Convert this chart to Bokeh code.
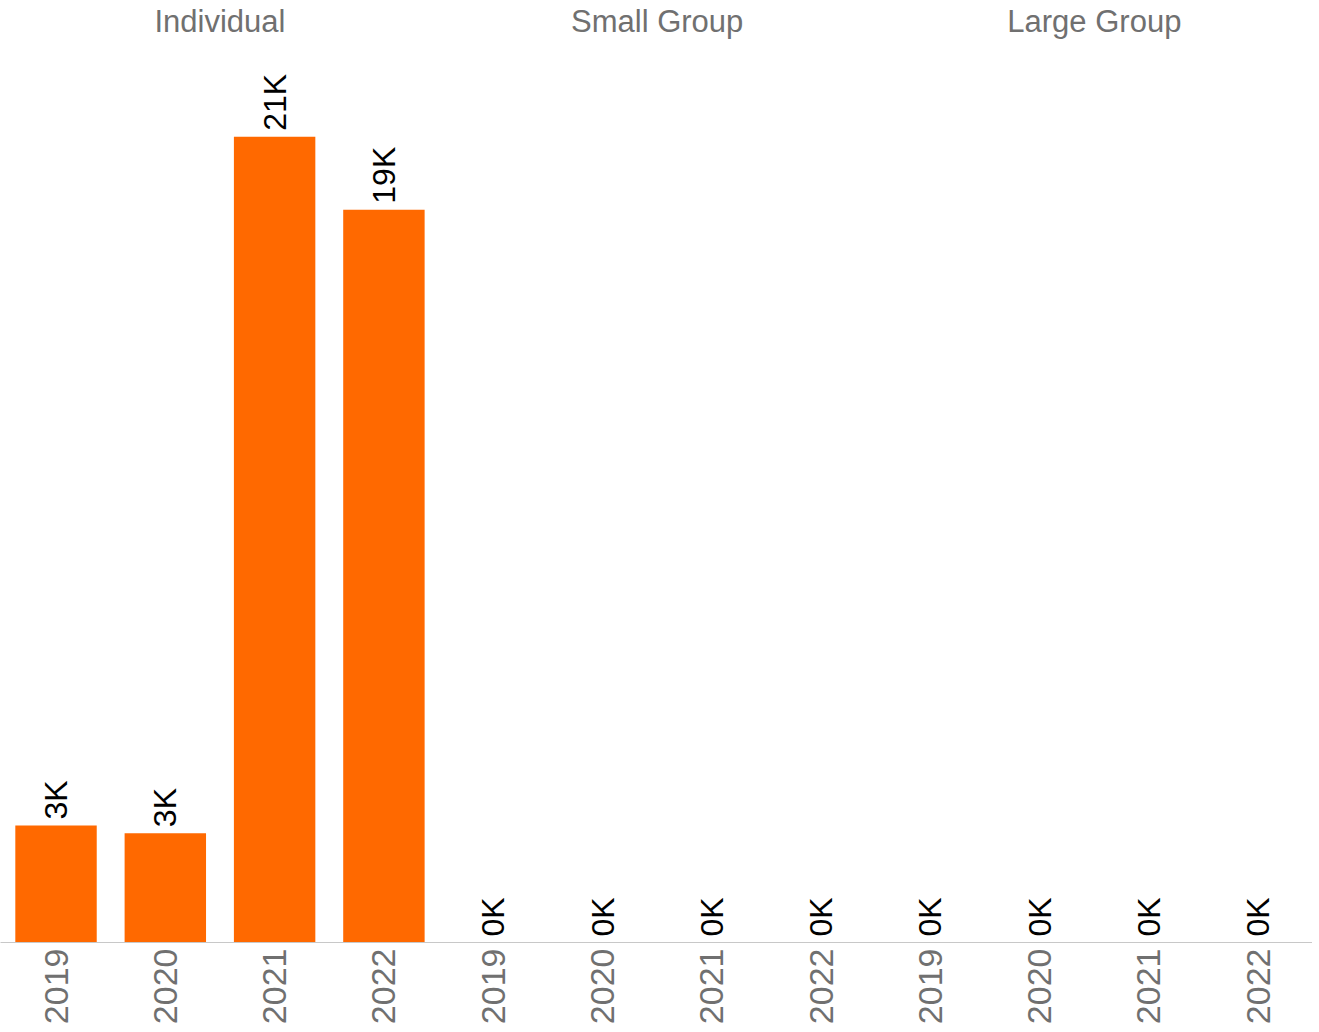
from math import pi
from bokeh.plotting import figure
from bokeh.models import ColumnDataSource, Range1d, LinearAxis, FixedTicker
from bokeh.core.properties import value
from bokeh.embed import file_html
from bokeh.resources import INLINE

# ---- data ----
groups = ["Individual", "Small Group", "Large Group"]
years = ["2019", "2020", "2021", "2022"]
individual = [3050, 2850, 21000, 19100]
small_group = [0, 0, 0, 0]
large_group = [0, 0, 0, 0]

series = [individual, small_group, large_group]
xs, vals, labels, year_lab = [], [], [], []
for gi, vs in enumerate(series):
    for yi, v in enumerate(vs):
        idx = gi * len(years) + yi
        xs.append(idx + 0.5)
        vals.append(v)
        labels.append(f"{round(v / 1000)}K")
        year_lab.append(years[yi])

src = ColumnDataSource(dict(x=xs, top=vals, label=labels))

ORANGE = "#FF6900"
GRAY = "#707070"
FONT = "Liberation Sans"

p = figure(width=1312, height=1027, output_backend="svg", toolbar_location=None,
           x_range=Range1d(-0.008, 11.996), y_range=Range1d(0, 23250),
           x_axis_location=None, y_axis_location=None,
           min_border_left=0, min_border_right=0, min_border_top=2, min_border_bottom=0)
p.outline_line_color = None
p.xgrid.visible = False
p.ygrid.visible = False
p.background_fill_color = "white"
p.border_fill_color = "white"

p.vbar(x="x", top="top", bottom=0, width=0.745, source=src,
       fill_color=ORANGE, line_color=None)

p.text(x="x", y="top", text="label", source=src, angle=pi / 2,
       text_align="left", text_baseline="middle", y_offset=-6,
       text_font=value(FONT), text_font_size="32px", text_color="black")

# bottom axis: years
bax = LinearAxis(ticker=FixedTicker(ticks=xs),
                 major_label_overrides={x: y for x, y in zip(xs, year_lab)})
bax.major_label_orientation = pi / 2
bax.major_label_text_font = FONT
bax.major_label_text_font_size = "34px"
bax.major_label_text_color = GRAY
bax.major_label_standoff = 0
bax.major_tick_line_color = None
bax.minor_tick_line_color = None
bax.axis_line_color = "#c8c8c8"
bax.axis_line_width = 1
p.add_layout(bax, "below")

# top axis: group headers
centers = [gi * len(years) + len(years) / 2 for gi in range(len(groups))]
tax = LinearAxis(ticker=FixedTicker(ticks=centers),
                 major_label_overrides={c: g for c, g in zip(centers, groups)})
tax.major_label_text_font = FONT
tax.major_label_text_font_size = "31px"
tax.major_label_text_color = GRAY
tax.major_label_standoff = 6
tax.major_tick_line_color = None
tax.minor_tick_line_color = None
tax.axis_line_color = None
p.add_layout(tax, "above")

open("out.html", "w").write(file_html(p, INLINE))
